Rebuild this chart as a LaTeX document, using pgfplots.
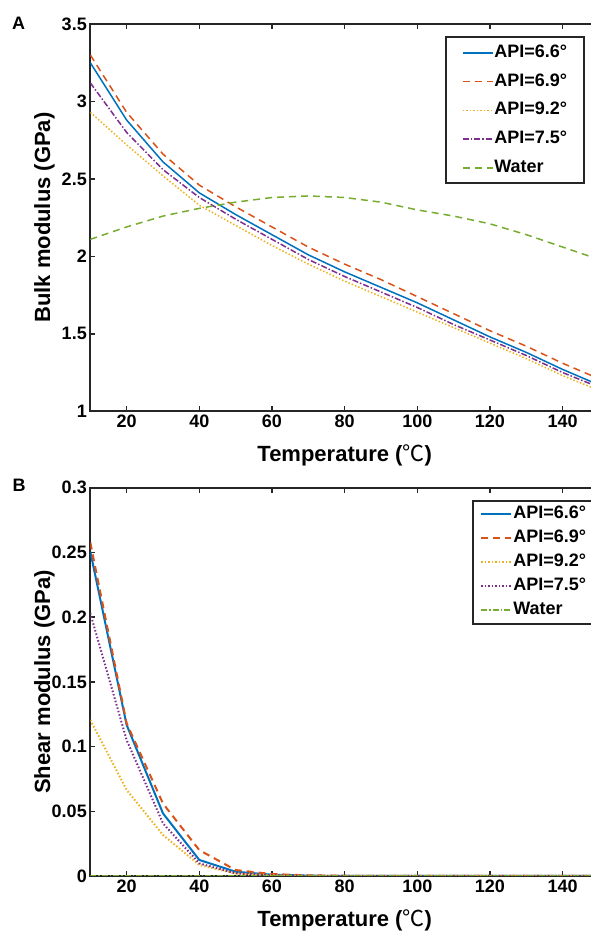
\documentclass[border=0pt]{standalone}
\usepackage{pgfplots}
\pgfplotsset{compat=1.18}
\usepackage{fontspec}
\setmainfont{Liberation Sans}
\newfontfamily\cjk{Noto Sans CJK SC}
\definecolor{mblue}{RGB}{0,114,189}
\definecolor{morange}{RGB}{217,83,25}
\definecolor{myellow}{RGB}{237,177,32}
\definecolor{mpurple}{RGB}{126,47,142}
\definecolor{mgreen}{RGB}{119,172,48}
\definecolor{axgray}{RGB}{38,38,38}
\begin{document}
\begin{tikzpicture}
\useasboundingbox (0,0) rectangle (591pt,931pt);
\pgfplotsset{
  myaxis/.style={
    scale only axis, width=508.7pt,
    xmin=10, xmax=150, xtick={20,40,...,140},
    tick align=inside, major tick length=5pt,
    axis line style={line width=2pt, draw=axgray},
    every tick/.style={line width=1.5pt, axgray},
    tick label style={font=\fontsize{18}{18}\selectfont\bfseries, text=black},
    /pgf/number format/assume math mode=true,
    scaled ticks=false,
    xlabel={Temperature ({\mdseries\cjk ℃})},
    label style={font=\fontsize{22}{22}\selectfont\bfseries},
    ylabel style={anchor=base},
    xlabel style={anchor=base},
    legend cell align=left,
    legend image code/.code={\draw[##1] (0pt,0pt) -- (30pt,0pt);},
    clip=true,
  }
}
% ---------- Panel A ----------
\begin{axis}[myaxis,
  at={(90.3pt,519.7pt)}, anchor=south west,
  height=387.3pt,
  ymin=1, ymax=3.5, ytick={1,1.5,2,2.5,3,3.5},
  yticklabels={1,1.5,2,2.5,3,3.5},
  ylabel={Bulk modulus (GPa)},
  ylabel style={at={(axis description cs:-0.0792,0.5)}},
  xlabel style={at={(axis description cs:0.5,-0.1304)}},
  legend style={at={(1,1)}, anchor=north east, xshift=-14pt, yshift=-12.5pt,
    draw=axgray, line width=2pt, inner xsep=16pt, inner ysep=4pt,
    row sep=5.7pt,
    font=\fontsize{18}{18}\selectfont\bfseries,
    nodes={inner xsep=1pt, inner ysep=3pt, text height=13pt, text depth=4pt}},
]
\addplot[mblue, line width=1.5pt] coordinates {
(10,3.25) (20,2.88) (30,2.61) (40,2.41) (50,2.27) (60,2.14) (70,2.01) (80,1.90)
(90,1.80) (100,1.70) (110,1.59) (120,1.48) (130,1.38) (140,1.27) (150,1.17)};
\addlegendentry{API=6.6°}
\addplot[morange, line width=1.5pt, dash pattern=on 7pt off 5pt] coordinates {
(10,3.30) (20,2.93) (30,2.66) (40,2.46) (50,2.32) (60,2.19) (70,2.06) (80,1.95)
(90,1.85) (100,1.74) (110,1.63) (120,1.52) (130,1.42) (140,1.31) (150,1.21)};
\addlegendentry{API=6.9°}
\addplot[myellow, line width=1.5pt, dash pattern=on 1.5pt off 2pt] coordinates {
(10,2.93) (20,2.72) (30,2.52) (40,2.33) (50,2.20) (60,2.07) (70,1.95) (80,1.84)
(90,1.74) (100,1.64) (110,1.54) (120,1.44) (130,1.34) (140,1.23) (150,1.135)};
\addlegendentry{API=9.2°}
\addplot[mpurple, line width=1.5pt, dash pattern=on 6pt off 2pt on 1.5pt off 2pt] coordinates {
(10,3.12) (20,2.80) (30,2.56) (40,2.38) (50,2.24) (60,2.11) (70,1.98) (80,1.87)
(90,1.77) (100,1.67) (110,1.56) (120,1.46) (130,1.36) (140,1.25) (150,1.155)};
\addlegendentry{API=7.5°}
\addplot[mgreen, line width=1.5pt, dash pattern=on 7pt off 5pt] coordinates {
(10,2.11) (20,2.19) (30,2.26) (40,2.31) (50,2.35) (60,2.38) (70,2.39) (80,2.38)
(90,2.35) (100,2.30) (110,2.26) (120,2.21) (130,2.14) (140,2.06) (150,1.98)};
\addlegendentry{Water}
\end{axis}
% ---------- Panel B ----------
\begin{axis}[myaxis,
  at={(90.3pt,55pt)}, anchor=south west,
  height=388.3pt,
  ymin=0, ymax=0.3, ytick={0,0.05,0.1,0.15,0.2,0.25,0.3},
  yticklabels={0,0.05,0.1,0.15,0.2,0.25,0.3},
  ylabel={Shear modulus (GPa)},
  ylabel style={at={(axis description cs:-0.0792,0.5)}},
  xlabel style={at={(axis description cs:0.5,-0.1301)}},
  legend style={at={(1,1)}, anchor=north east, xshift=-4pt, yshift=-12.3pt,
    draw=axgray, line width=2pt, inner xsep=7pt, inner ysep=2pt,
    row sep=1pt,
    font=\fontsize{18}{18}\selectfont\bfseries,
    nodes={inner xsep=1pt, inner ysep=3pt, text height=13pt, text depth=4pt}},
]
\addplot[mblue, line width=2pt] coordinates {
(10,0.2506) (20,0.1167) (30,0.0484) (40,0.0124) (50,0.0033) (60,0.0010) (70,0.0003)
(80,0) (90,0) (100,0) (110,0) (120,0) (130,0) (140,0) (150,0)};
\addlegendentry{API=6.6°}
\addplot[morange, line width=2pt, dash pattern=on 7pt off 5pt] coordinates {
(10,0.2576) (20,0.1180) (30,0.0560) (40,0.0200) (50,0.0046) (60,0.0015) (70,0.0005)
(80,0.0002) (90,0) (100,0) (110,0) (120,0) (130,0) (140,0) (150,0)};
\addlegendentry{API=6.9°}
\addplot[myellow, line width=2pt, dash pattern=on 1.5pt off 2pt] coordinates {
(10,0.1206) (20,0.0665) (30,0.0317) (40,0.0085) (50,0.0020) (60,0.0005) (70,0.0001)
(80,0) (90,0) (100,0) (110,0) (120,0) (130,0) (140,0) (150,0)};
\addlegendentry{API=9.2°}
\addplot[mpurple, line width=2pt, dash pattern=on 1.5pt off 2pt] coordinates {
(10,0.2030) (20,0.1050) (30,0.0407) (40,0.0098) (50,0.0020) (60,0.0005) (70,0.0001)
(80,0) (90,0) (100,0) (110,0) (120,0) (130,0) (140,0) (150,0)};
\addlegendentry{API=7.5°}
\addplot[mgreen, line width=2pt, dash pattern=on 6pt off 2pt on 1.5pt off 2pt] coordinates {
(10,0) (20,0) (30,0) (40,0) (50,0) (60,0) (70,0) (80,0)
(90,0) (100,0) (110,0) (120,0) (130,0) (140,0) (150,0)};
\addlegendentry{Water}
\end{axis}
\node[anchor=base west, font=\fontsize{18}{18}\selectfont\bfseries, inner sep=0pt] at (12pt,901pt) {A};
\node[anchor=base west, font=\fontsize{18}{18}\selectfont\bfseries, inner sep=0pt] at (12.5pt,439pt) {B};
\end{tikzpicture}
\end{document}
